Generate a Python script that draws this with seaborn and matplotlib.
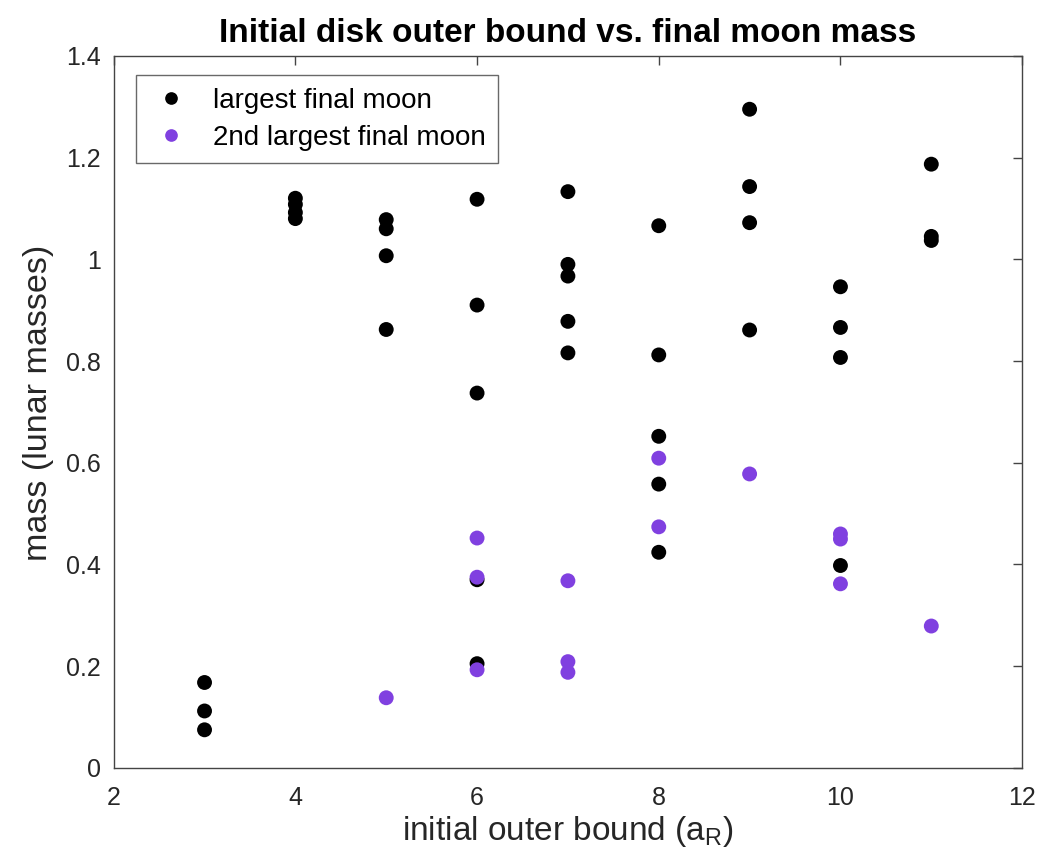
import numpy as np
import pandas as pd
import matplotlib
matplotlib.use("Agg")
import matplotlib.pyplot as plt
import seaborn as sns

# Data: initial outer bound (a_R) and final moon masses (lunar masses)
largest_x = [3, 3, 3,
             4, 4, 4, 4,
             5, 5, 5, 5,
             6, 6, 6, 6, 6,
             7, 7, 7, 7, 7,
             8, 8, 8, 8, 8,
             9, 9, 9, 9,
             10, 10, 10, 10,
             11, 11, 11]
largest_y = [0.168, 0.112, 0.075,
             1.120, 1.108, 1.092, 1.080,
             1.078, 1.060, 1.007, 0.862,
             1.118, 0.910, 0.737, 0.370, 0.205,
             1.133, 0.990, 0.967, 0.878, 0.816,
             1.066, 0.812, 0.652, 0.558, 0.424,
             1.295, 1.143, 1.072, 0.861,
             0.946, 0.866, 0.807, 0.398,
             1.187, 1.045, 1.037]

second_x = [5, 6, 6, 6, 7, 7, 7, 8, 8, 9, 10, 10, 10, 11]
second_y = [0.138, 0.452, 0.375, 0.193, 0.368, 0.209, 0.188,
            0.609, 0.474, 0.578, 0.460, 0.450, 0.362, 0.279]

labels = ["largest final moon", "2nd largest final moon"]
colors = ["#000000", "#8040E0"]

df = pd.DataFrame({
    "bound": largest_x + second_x,
    "mass": largest_y + second_y,
    "moon": [labels[0]] * len(largest_x) + [labels[1]] * len(second_x),
})

sns.set_style("white")
plt.rcParams["font.family"] = ["Liberation Sans", "DejaVu Sans"]

fig = plt.figure(figsize=(10.43, 8.59), dpi=100)
ax = fig.add_axes([0.109, 0.106, 0.871, 0.829])

sns.scatterplot(data=df, x="bound", y="mass", hue="moon", hue_order=labels,
                palette=colors, s=115, edgecolor="none", marker="o", ax=ax)

ax.set_xlim(2, 12)
ax.set_ylim(0, 1.4)
ax.set_xticks([2, 4, 6, 8, 10, 12])
ax.set_yticks([0, 0.2, 0.4, 0.6, 0.8, 1.0, 1.2, 1.4])
ax.set_yticklabels(["0", "0.2", "0.4", "0.6", "0.8", "1", "1.2", "1.4"])
ax.tick_params(direction="in", length=6.5, width=1, labelsize=18,
               top=True, right=True, color="#444444", labelcolor="#262626")
ax.tick_params(axis="x", pad=13)
ax.tick_params(axis="y", pad=9)
for sp in ax.spines.values():
    sp.set_color("#444444")
    sp.set_linewidth(1)

ax.set_xlabel("initial outer bound (a$_\\mathregular{R}$)", fontsize=24,
              labelpad=3, color="#262626")
ax.set_ylabel("mass (lunar masses)", fontsize=24.5, color="#262626")
ax.yaxis.set_label_coords(-0.066, 0.512)
ax.set_title("Initial disk outer bound vs. final moon mass", fontsize=24,
             fontweight="bold", pad=10, color="black")

leg = ax.legend(loc="upper left", bbox_to_anchor=(0.025, 0.973),
                borderaxespad=0, fontsize=20, frameon=True, fancybox=False,
                edgecolor="#444444", handletextpad=0.7,
                labelspacing=0.4, markerscale=0.85, borderpad=0.45,
                handlelength=1.6)
leg.get_frame().set_linewidth(1)
for t in leg.get_texts():
    t.set_color("black")

fig.savefig("out.png", dpi=100, facecolor="white")
